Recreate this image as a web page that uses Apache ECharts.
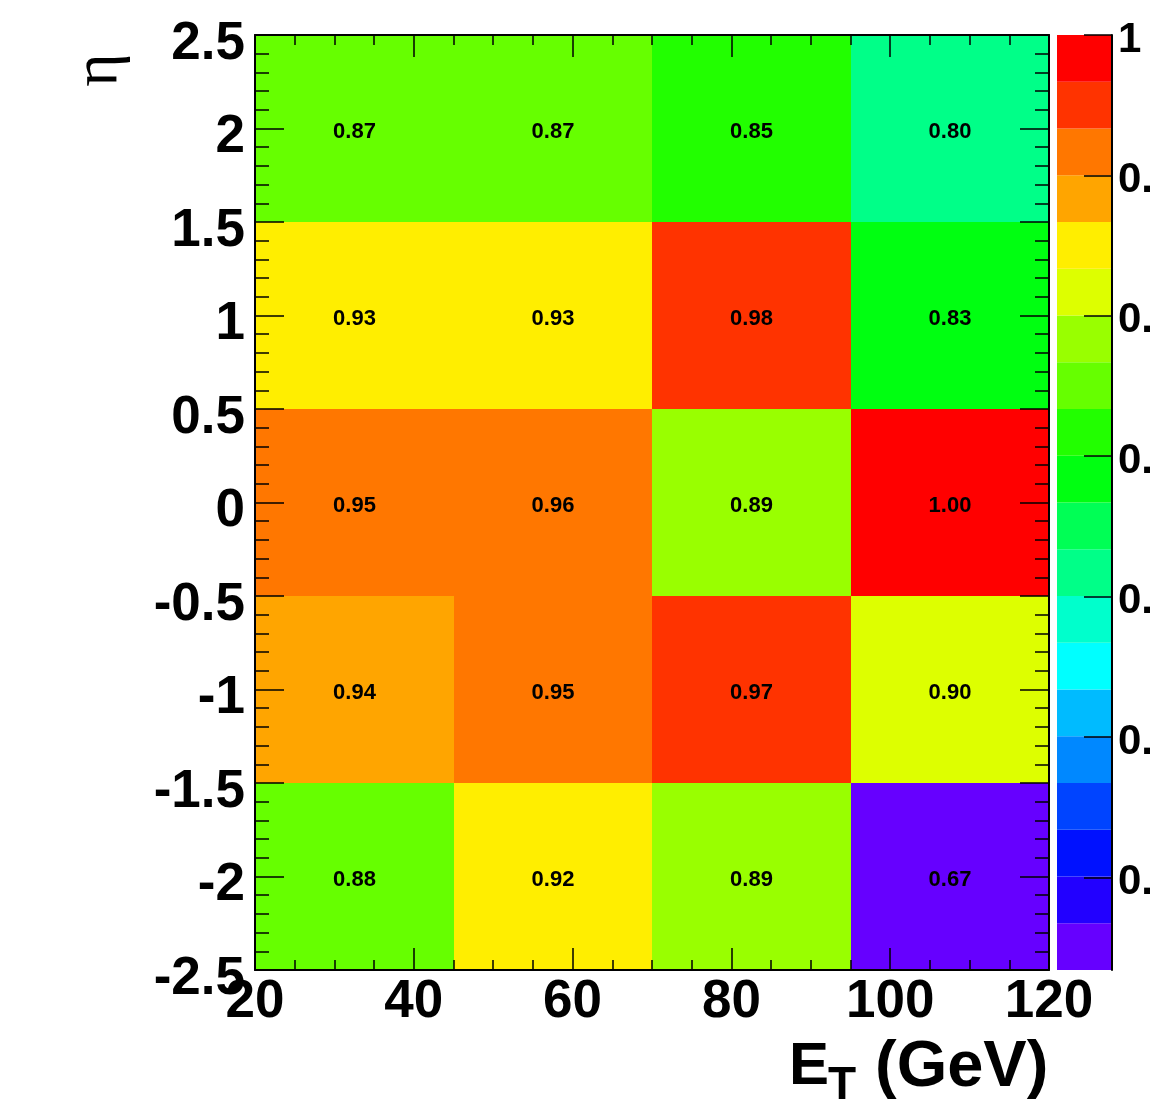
<!DOCTYPE html>
<html>
<head>
<meta charset="utf-8">
<script src="https://cdn.jsdelivr.net/npm/echarts@6/dist/echarts.min.js"></script>
<style>
html,body{margin:0;padding:0;background:#fff;}
#chart{width:1151px;height:1113px;}
</style>
</head>
<body>
<div id="chart"></div>
<script>
// Bin edges
const etEdges = [20, 45, 70, 95, 120];
const etaEdges = [-2.5, -1.5, -0.5, 0.5, 1.5, 2.5];
// Efficiency per eta row (columns follow E_T bins)
const effEtaM2 = [0.88, 0.92, 0.89, 0.667];   // eta -2.5..-1.5
const effEtaM1 = [0.94, 0.951, 0.97, 0.901];  // eta -1.5..-0.5
const effEta0  = [0.951, 0.96, 0.89, 1.00];   // eta -0.5..0.5
const effEtaP1 = [0.93, 0.93, 0.98, 0.834];   // eta 0.5..1.5
const effEtaP2 = [0.87, 0.87, 0.852, 0.802];  // eta 1.5..2.5
const rows = [effEtaM2, effEtaM1, effEta0, effEtaP1, effEtaP2];
// Colour palette (lowest level first)
const palette = ['#6600ff','#2200ff','#0011ff','#0044ff','#0088ff','#00bbff','#00ffff','#00ffcc','#00ff88','#00ff55',
                 '#00ff11','#22ff00','#66ff00','#99ff00','#ddff00','#ffee00','#ffa500','#ff7700','#ff3300','#ff0000'];
// Colour bar tick labels
const zTicks = [0.7, 0.75, 0.8, 0.85, 0.9, 0.95, 1.0];
const zTickLabels = ['0.7', '0.75', '0.8', '0.85', '0.9', '0.95', '1'];

const cells = [];
rows.forEach((row, j) => row.forEach((v, i) => {
  cells.push([etEdges[i], etEdges[i + 1], etaEdges[j], etaEdges[j + 1], v]);
}));
const all = rows.flat();
const zMin = Math.min(...all), zMax = Math.max(...all);
const nLev = palette.length;
const step = (zMax - zMin) / nLev;
const pieces = palette.map((c, k) => (k === nLev - 1)
  ? { gte: zMin + k * step, lte: zMax + 1e-9, color: c }
  : { gte: zMin + k * step, lt: zMin + (k + 1) * step, color: c });
const levels = palette.map((c, k) => [k, zMin + k * step, zMin + (k + 1) * step]);

const FONT = '"Liberation Sans", Arial, Helvetica, sans-serif';
const black = '#000';

const chart = echarts.init(document.getElementById('chart'), null, { renderer: 'canvas' });
const tickStyle = { color: black, width: 1.5 };
const lineStyle = { color: black, width: 2 };
const option = {
  animation: false,
  backgroundColor: '#fff',
  grid: [
    { left: 255, top: 35, width: 794, height: 935, outerBoundsMode: 'none', containLabel: false },
    { left: 1057, top: 35, width: 55, height: 935, outerBoundsMode: 'none', containLabel: false }
  ],
  visualMap: {
    type: 'piecewise', show: false, seriesIndex: 0, dimension: 4, pieces: pieces
  },
  xAxis: [
    { gridIndex: 0, type: 'value', min: 20, max: 120, interval: 20, position: 'bottom', z: 10,
      axisLine: { onZero: false, lineStyle: lineStyle },
      axisTick: { inside: true, length: 22, lineStyle: tickStyle },
      minorTick: { show: true, splitNumber: 4, length: 10, lineStyle: tickStyle },
      splitLine: { show: false },
      axisLabel: { fontSize: 53, fontWeight: 'bold', fontFamily: FONT, color: black, margin: 6 } },
    { gridIndex: 0, type: 'value', min: 20, max: 120, interval: 20, position: 'top', z: 10,
      axisLine: { onZero: false, lineStyle: lineStyle },
      axisTick: { inside: true, length: 22, lineStyle: tickStyle },
      minorTick: { show: true, splitNumber: 4, length: 10, lineStyle: tickStyle },
      splitLine: { show: false }, axisLabel: { show: false } },
    { gridIndex: 1, type: 'value', min: 0, max: 1, show: false, axisLine: { onZero: false } }
  ],
  yAxis: [
    { gridIndex: 0, type: 'value', min: -2.5, max: 2.5, interval: 0.5, position: 'left', z: 10,
      axisLine: { onZero: false, lineStyle: lineStyle },
      axisTick: { inside: true, length: 29, lineStyle: tickStyle },
      minorTick: { show: true, splitNumber: 5, length: 14, lineStyle: tickStyle },
      splitLine: { show: false },
      axisLabel: { fontSize: 53, fontWeight: 'bold', fontFamily: FONT, color: black, margin: 10,
                   verticalAlign: 'top', lineHeight: 18 } },
    { gridIndex: 0, type: 'value', min: -2.5, max: 2.5, interval: 0.5, position: 'right', z: 10,
      axisLine: { onZero: false, lineStyle: lineStyle },
      axisTick: { inside: true, length: 29, lineStyle: tickStyle },
      minorTick: { show: true, splitNumber: 5, length: 14, lineStyle: tickStyle },
      splitLine: { show: false }, axisLabel: { show: false } },
    { gridIndex: 1, type: 'value', min: zMin, max: zMax, position: 'right', z: 10,
      axisLine: { show: true, onZero: false, lineStyle: lineStyle },
      axisTick: { show: true, inside: true, length: 28, customValues: zTicks, lineStyle: tickStyle },
      splitLine: { show: false },
      axisLabel: { show: true, customValues: zTicks, fontSize: 42, fontWeight: 'bold', fontFamily: FONT, color: black,
                   margin: 6, verticalAlign: 'top', lineHeight: 10,
                   formatter: (v) => { const i = zTicks.findIndex(t => Math.abs(t - v) < 1e-6); return i >= 0 ? zTickLabels[i] : ''; } } }
  ],
  series: [
    { type: 'custom', xAxisIndex: 0, yAxisIndex: 0, data: cells, encode: { x: [0, 1], y: [2, 3] }, z: 2,
      renderItem: function (params, api) {
        const p0 = api.coord([api.value(0), api.value(3)]);
        const p1 = api.coord([api.value(1), api.value(2)]);
        const x0 = Math.round(p0[0]), y0 = Math.round(p0[1]), x1 = Math.round(p1[0]), y1 = Math.round(p1[1]);
        return { type: 'group', children: [
          { type: 'rect', shape: { x: x0, y: y0, width: x1 - x0, height: y1 - y0 },
            style: { fill: api.visual('color'), stroke: null } },
          { type: 'text', x: (x0 + x1) / 2, y: (y0 + y1) / 2 + 3,
            style: { text: api.value(4).toFixed(2), fill: black, font: 'bold 22px ' + FONT,
                     align: 'center', verticalAlign: 'middle' } }
        ] };
      } },
    { type: 'custom', xAxisIndex: 2, yAxisIndex: 2, data: levels, encode: { y: [1, 2] }, z: 2,
      renderItem: function (params, api) {
        const cs = params.coordSys;
        const pa = api.coord([0, api.value(2)]);
        const pb = api.coord([0, api.value(1)]);
        return { type: 'rect', shape: { x: cs.x, y: pa[1], width: cs.width, height: pb[1] - pa[1] },
                 style: { fill: palette[api.value(0)] } };
      } }
  ],
  graphic: [
    { type: 'text', x: 789, y: 1067, style: { text: 'E', font: 'bold 60px ' + FONT, fill: black, align: 'left', verticalAlign: 'middle' } },
    { type: 'text', x: 828, y: 1086, style: { text: 'T', font: 'bold 46px ' + FONT, fill: black, align: 'left', verticalAlign: 'middle' } },
    { type: 'text', x: 875, y: 1068, style: { text: '(GeV)', font: 'bold 65px ' + FONT, fill: black, align: 'left', verticalAlign: 'middle' } },
    { type: 'text', x: 99, y: 70, rotation: Math.PI / 2,
      style: { text: 'η', font: '64px "Liberation Serif", "DejaVu Serif", serif', fill: black, align: 'center', verticalAlign: 'middle' } }
  ]
};
chart.setOption(option);
</script>
</body>
</html>
